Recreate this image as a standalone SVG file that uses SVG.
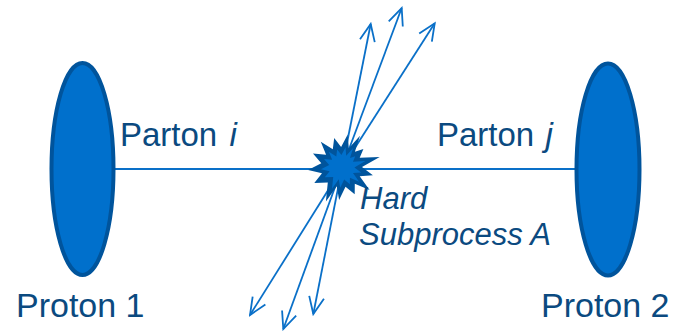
<svg xmlns="http://www.w3.org/2000/svg" xmlns:xlink="http://www.w3.org/1999/xlink" width="682" height="331" viewBox="0 0 682 331">
<style>
.proton{fill:#0070cc;stroke:#00549c;stroke-width:4}
.ln{stroke:#0a70c8;stroke-width:1.8;fill:none}
.arr{stroke:#0a70c8;stroke-width:1.8;fill:none;marker-end:url(#open)}
.t{font-family:"Liberation Sans",Arial,sans-serif;fill:#0b4a80}
.it{font-style:italic}
</style>
<defs>
<marker id="open" markerUnits="userSpaceOnUse" viewBox="-20 -10 22 20" refX="0" refY="0" markerWidth="22" markerHeight="20" orient="auto">
<path d="M-17,-7.5 L0,0 L-17,7.5" fill="none" stroke="#0a70c8" stroke-width="1.8"/>
</marker>
<polygon id="star" points="379.7,156.9 362,167 372.9,175.3 359.7,176.2 369.6,190.1 354.8,183.7 354.7,194.2 345.5,186.7 339.1,199.9 336.8,186.3 325.9,201.4 327.8,182.5 314.3,183 322,173.3 308.1,170 321.3,163.3 313,153.5 326.1,154.8 320.8,141.7 332.8,149.3 334.2,138 341.1,147 347.7,134.5 348.8,148.2 360,135.8 354.9,151.7 363.4,149 359.7,157.8"/>
</defs>
<g id="connectors">
<line class="ln" x1="114" y1="169" x2="576" y2="169"/>
<line class="arr" x1="342" y1="168" x2="370.7" y2="24"/>
<line class="arr" x1="342" y1="168" x2="401.7" y2="8"/>
<line class="arr" x1="342" y1="168" x2="434.7" y2="23.3"/>
<line class="arr" x1="342" y1="168" x2="250" y2="315"/>
<line class="arr" x1="342" y1="168" x2="283.3" y2="329"/>
<line class="arr" x1="342" y1="168" x2="313.3" y2="314"/>
</g>
<g id="proton1">
<ellipse class="proton" cx="82.5" cy="169" rx="31" ry="106"/>
<text class="t" x="16" y="317" font-size="34">Proton 1</text>
</g>
<g id="proton2">
<ellipse class="proton" cx="608" cy="169.5" rx="31.5" ry="106"/>
<text class="t" x="541" y="317" font-size="34">Proton 2</text>
</g>
<g id="parton_i">
<text class="t" x="120" y="146" font-size="33">Parton <tspan class="it" dx="3">i</tspan></text>
</g>
<g id="parton_j">
<text class="t" x="437" y="146" font-size="33">Parton <tspan class="it" dx="2">j</tspan></text>
</g>
<g id="hard">
<use xlink:href="#star" fill="#00549c"/>
<use xlink:href="#star" fill="#0070cc" transform="translate(342,168) scale(0.62) translate(-342,-168)"/>
<text class="t it" x="360" y="209" font-size="31">Hard</text>
<text class="t it" x="359" y="245" font-size="31">Subprocess A</text>
</g>
</svg>
